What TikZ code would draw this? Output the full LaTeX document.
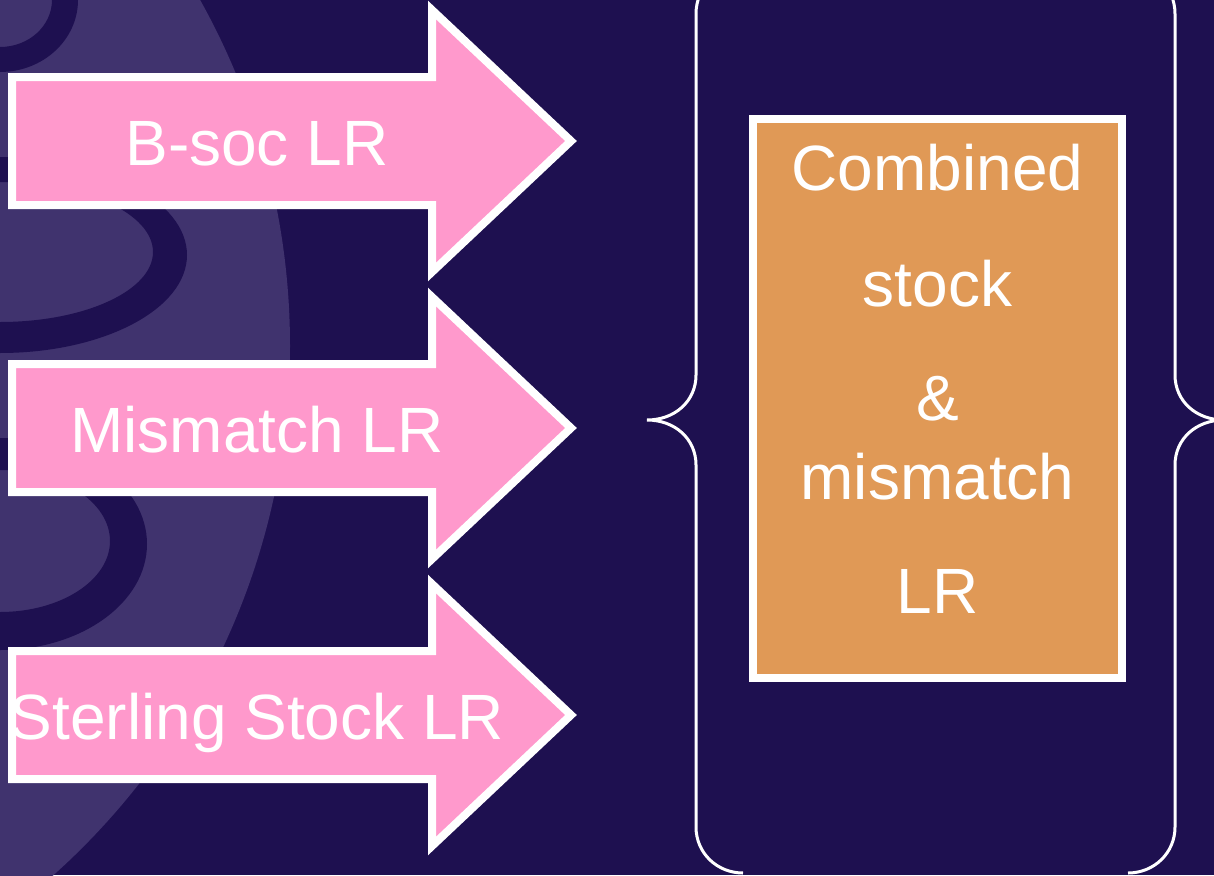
\documentclass[tikz,border=0pt]{standalone}
\usepackage{fontspec}
\setmainfont{Liberation Sans}
\definecolor{navy}{RGB}{30,16,80}
\definecolor{lilac}{RGB}{64,51,110}
\definecolor{pinkfill}{RGB}{255,153,204}
\definecolor{orangefill}{RGB}{224,153,86}
\begin{document}
\begin{tikzpicture}[x=1pt,y=-1pt,
  lbl/.style={text=white,font=\fontsize{64}{70}\selectfont,inner sep=0pt,anchor=base},
  arrowshape/.style={draw=white,line width=8pt,fill=pinkfill,line join=miter,miter limit=10},
  bracestyle/.style={draw=white,line width=3pt},
  band/.style={fill=navy,even odd rule}]
\fill[navy] (0,0) rectangle (1214,875);
\useasboundingbox (0,0) rectangle (1214,875);
\clip (0,0) rectangle (1214,875);
% background decoration
\fill[lilac] (-420,346) circle (710);
\fill[band] (0,0) ellipse (78 and 72) (0,0) ellipse (52 and 47);
\fill[band] (0,255) ellipse (187 and 98) (0,252) ellipse (153 and 70);
\fill[band] (0,544) ellipse (147 and 106) (0,541) ellipse (110 and 71);
% arrows
\foreach \cy/\nm/\txt in {141/a1/B-soc LR, 428/a2/Mismatch LR, 715/a3/Sterling Stock LR}{
  \draw[arrowshape] (12,\cy-64) -- (432,\cy-64) -- (432,\cy-131) -- (571,\cy)
     -- (432,\cy+131) -- (432,\cy+64) -- (12,\cy+64) -- cycle;
  \node[lbl] (\nm) at (257,\cy+24.5) {\txt};
}
% braces
\draw[bracestyle] (743,-33) .. controls (717,-33) and (696,-13) .. (696,14) -- (696,375)
  .. controls (696,401) and (675,420) .. (647,420)
  .. controls (675,420) and (696,439) .. (696,465) -- (696,827)
  .. controls (696,853) and (717,873) .. (743,873);
\draw[bracestyle] (1128,-33) .. controls (1154,-33) and (1175,-13) .. (1175,14) -- (1175,375)
  .. controls (1175,401) and (1196,420) .. (1224,420)
  .. controls (1196,420) and (1175,439) .. (1175,465) -- (1175,827)
  .. controls (1175,853) and (1154,873) .. (1128,873);
% box
\node[draw=white,line width=8pt,fill=orangefill,minimum width=369pt,minimum height=559pt,inner sep=0pt] (box) at (937.5,398.5) {};
\node[lbl] (t1) at (937.5,190) {Combined};
\node[lbl] (t2) at (937.5,306) {stock};
\node[lbl] (t3) at (937.5,420) {\&};
\node[lbl] (t4) at (937.5,499) {mismatch};
\node[lbl] (t5) at (937.5,613) {LR};
\end{tikzpicture}
\end{document}
